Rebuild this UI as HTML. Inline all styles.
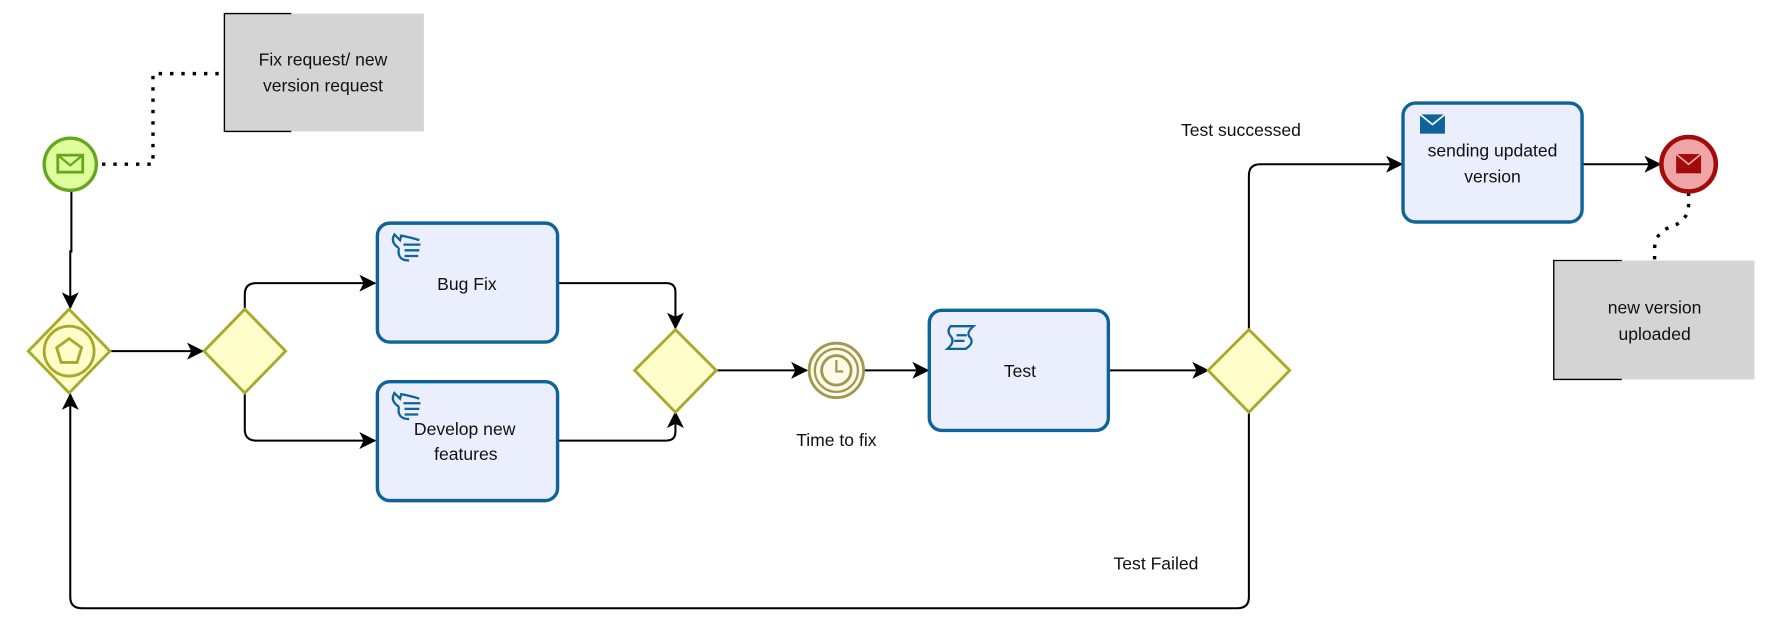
<!DOCTYPE html>
<html><head><meta charset="utf-8"><style>
html,body{margin:0;padding:0;background:#fff;}
svg{display:block;}
text{font-family:"Liberation Sans",sans-serif;font-size:15.5px;fill:#111;text-anchor:middle;}
</style></head><body>
<svg width="1777" height="632" viewBox="0 0 1568 558" preserveAspectRatio="none" xmlns="http://www.w3.org/2000/svg">
<defs>
<marker id="a" viewBox="0 0 14 14" refX="13" refY="7" markerWidth="15" markerHeight="15" markerUnits="userSpaceOnUse" orient="auto">
<path d="M0,0 L14,7 L0,14 L3.5,7 Z" fill="#000"/>
</marker>
</defs>
<rect x="198" y="12" width="176" height="104" fill="#d4d4d4"/>
<path d="M257,12 H198 V116 H257" fill="none" stroke="#000" stroke-width="1.2"/>
<text x="285" y="58">Fix request/ new</text>
<text x="285" y="81">version request</text>
<path d="M90,145 H135 V65 H198" fill="none" stroke="#000" stroke-width="3" stroke-dasharray="3,7"/>
<rect x="1371" y="230" width="177" height="105" fill="#d4d4d4"/>
<path d="M1431,230 H1371 V335 H1431" fill="none" stroke="#000" stroke-width="1.2"/>
<text x="1460" y="277">new version</text>
<text x="1460" y="300">uploaded</text>
<path d="M1490,170 V180 Q1490,195 1475,200 Q1460,205 1460,220 V230" fill="none" stroke="#000" stroke-width="3" stroke-dasharray="3,7"/>

<g fill="none" stroke="#000" stroke-width="1.8">
<path d="M63,168 V222 H62 V272" marker-end="url(#a)"/>
<path d="M97,310 H179" marker-end="url(#a)"/>
<path d="M216,273 V260 Q216,250 226,250 H331" marker-end="url(#a)"/>
<path d="M216,347 V379 Q216,389 226,389 H331" marker-end="url(#a)"/>
<path d="M492,250 H588 Q596,250 596,258 V290" marker-end="url(#a)"/>
<path d="M492,389 H588 Q596,389 596,381 V364" marker-end="url(#a)"/>
<path d="M632,327 H712" marker-end="url(#a)"/>
<path d="M762,327 H819" marker-end="url(#a)"/>
<path d="M978,327 H1066" marker-end="url(#a)"/>
<path d="M1102,291 V155 Q1102,145 1112,145 H1237" marker-end="url(#a)"/>
<path d="M1396,145 H1465" marker-end="url(#a)"/>
<path d="M1102,364 V527 Q1102,537 1092,537 H72 Q62,537 62,527 V348" marker-end="url(#a)"/>
</g>
<text x="1095" y="120">Test successed</text>
<text x="1020" y="503">Test Failed</text>

<circle cx="62" cy="145" r="23" fill="#e0ff9c" stroke="#64a820" stroke-width="3"/>
<rect x="51" y="137" width="22" height="15" fill="none" stroke="#64a820" stroke-width="2.5"/>
<path d="M51,137 L62,146 L73,137" fill="none" stroke="#64a820" stroke-width="2"/>

<g fill="#fffdc9" stroke="#a8a82a" stroke-width="2.5">
<path d="M61,273 L97,310 L61,347 L25,310 Z"/>
<path d="M216,273 L252,310 L216,347 L180,310 Z"/>
<path d="M596,291 L632,327 L596,364 L560,327 Z"/>
<path d="M1102,291 L1138,327 L1102,364 L1066,327 Z"/>
</g>
<circle cx="61" cy="310" r="22" fill="none" stroke="#a8a82a" stroke-width="2.5"/>
<path d="M61,299 L72,307 L68,320 L54,320 L50,307 Z" fill="none" stroke="#a8a82a" stroke-width="2.5"/>

<g fill="#ebeefc" stroke="#0e6398" stroke-width="3">
<rect x="333" y="197" width="159" height="105" rx="11"/>
<rect x="333" y="337" width="159" height="105" rx="11"/>
<rect x="820" y="274" width="158" height="106" rx="11"/>
<rect x="1238" y="91" width="158" height="105" rx="11"/>
</g>
<text x="412" y="256">Bug Fix</text>
<text x="410" y="384">Develop new</text>
<text x="411" y="406">features</text>
<text x="900" y="333">Test</text>
<text x="1317" y="138">sending updated</text>
<text x="1317" y="161">version</text>
<g fill="none" stroke="#0e6398" stroke-width="2">
<path d="M352,219 Q344,214 348,207 L353,212 L354,208 Q364,210 370,212 M356,216 H371 M357,221 H370 M357,226 H369 M352,219 Q350,230 361,230"/>
<path d="M352,359 Q344,354 348,347 L353,352 L354,348 Q364,350 370,352 M356,356 H371 M357,361 H370 M357,366 H369 M352,359 Q350,370 361,370"/>
<path d="M839,288 H859 Q852,294 856,298 Q860,303 852,308 H836 Q843,302 839,297 Q835,292 839,288 Z M844,296 H853 M842,301 H851"/>
</g>
<rect x="1253" y="101" width="22" height="17" fill="#0e6398"/>
<path d="M1253,101 L1264,110 L1275,101" fill="none" stroke="#fff" stroke-width="1.5"/>

<circle cx="738" cy="327" r="24" fill="#fdfbe8" stroke="#a09750" stroke-width="2.5"/>
<circle cx="738" cy="327" r="19" fill="none" stroke="#a09750" stroke-width="2"/>
<circle cx="738" cy="327" r="13" fill="none" stroke="#a09750" stroke-width="2.5"/>
<path d="M738,318 V328 H744" fill="none" stroke="#a09750" stroke-width="2"/>
<text x="738" y="394">Time to fix</text>

<circle cx="1490" cy="145" r="24" fill="#f0a6a6" stroke="#a30b0b" stroke-width="4"/>
<rect x="1479" y="136" width="22" height="17" fill="#a30b0b"/>
<path d="M1479,136 L1490,145 L1501,136" fill="none" stroke="#f0a6a6" stroke-width="1.5"/>
</svg>
</body></html>
